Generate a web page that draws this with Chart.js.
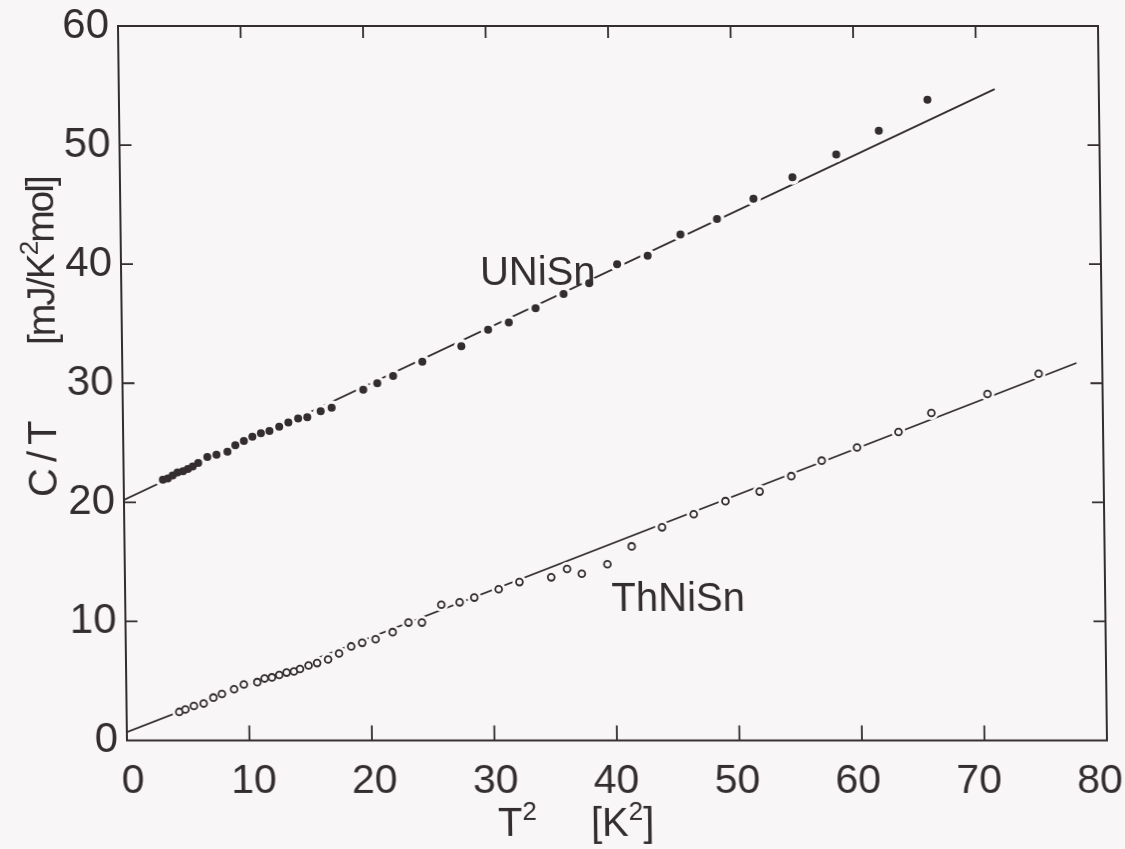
<!DOCTYPE html>
<html>
<head>
<meta charset="utf-8">
<script src="https://cdn.jsdelivr.net/npm/chart.js@4.4.1/dist/chart.umd.min.js"></script>
<style>
  html, body { margin: 0; padding: 0; background: #f8f6f7; }
  /* the plotted sheet sits very slightly sheared, like the printed page */
  #wrap { width: 1125px; height: 849px; transform: skewX(0.72deg); transform-origin: 50% 50%; }
</style>
</head>
<body>
<div id="wrap"><canvas id="cv" width="1125" height="849"></canvas></div>
<script>
  'use strict';

  // C/T vs T^2, UNiSn (filled) and ThNiSn (open)
  const uniT2 = [3.2, 3.6, 4.0, 4.4, 4.85, 5.25, 5.65, 6.1, 6.85, 7.6, 8.5, 9.15, 9.85, 10.55, 11.25, 11.95,
                 12.75, 13.5, 14.3, 15.05, 16.15, 17.05, 19.65, 20.8, 22.1, 24.5, 27.7, 29.9, 31.6, 33.8,
                 36.1, 38.2, 40.5, 43.0, 45.7, 48.7, 51.7, 54.9, 58.5, 62.0, 66.0];
  const uniCT = [21.9, 22.0, 22.25, 22.5, 22.6, 22.8, 23.0, 23.3, 23.8, 24.0, 24.25, 24.8, 25.15, 25.5, 25.8, 26.0,
                 26.35, 26.7, 27.05, 27.15, 27.65, 27.95, 29.45, 30.0, 30.6, 31.8, 33.1, 34.5, 35.1, 36.3,
                 37.5, 38.4, 40.0, 40.7, 42.5, 43.8, 45.5, 47.3, 49.2, 51.2, 53.8];

  const thT2 = [4.3, 4.8, 5.5, 6.3, 7.1, 7.8, 8.8, 9.6, 10.7, 11.3, 11.9, 12.5, 13.1, 13.7, 14.2, 14.9,
                15.6, 16.5, 17.4, 18.4, 19.3, 20.4, 21.8, 23.1, 24.2, 25.8, 27.3, 28.5, 30.5, 32.2,
                34.8, 36.1, 37.3, 39.4, 41.4, 43.9, 46.5, 49.1, 51.9, 54.5, 57.0, 59.9, 63.3, 66.0, 70.6, 74.8];
  const thCT = [2.4, 2.6, 2.9, 3.1, 3.6, 3.9, 4.3, 4.7, 4.9, 5.2, 5.3, 5.5, 5.7, 5.8, 6.0, 6.3,
                6.5, 6.8, 7.3, 7.9, 8.2, 8.5, 9.1, 9.9, 9.9, 11.4, 11.6, 12.0, 12.7, 13.3,
                13.7, 14.4, 14.0, 14.8, 16.3, 17.9, 19.0, 20.1, 20.9, 22.2, 23.5, 24.6, 25.9, 27.5, 29.1, 30.8];

  // straight-line fits, end points
  const uniFitT2 = [0, 71.5];
  const uniFitCT = [20.2, 54.7];
  const thFitT2 = [0, 77.9];
  const thFitCT = [0.7, 31.7];

  const xTicks = [0, 10, 20, 30, 40, 50, 60, 70, 80];
  const yTicks = [0, 10, 20, 30, 40, 50, 60];

  // curve names placed in data units
  const labelNames = ['UNiSn', 'ThNiSn'];
  const labelT2 = [29.3, 39.7];
  const labelCT = [38.25, 10.9];

  const INK = '#342d30';
  const PAPER = '#f8f6f7';
  const FONT = '"Liberation Sans", Arial, sans-serif';

  const pts = (xs, ys) => xs.map((x, i) => ({ x, y: ys[i] }));

  // box, inward tick marks, x tick numbers and the hand-set titles
  const plotFrame = {
    id: 'plotFrame',
    afterDatasetsDraw(chart) {
      const { ctx, chartArea: a, scales: { x, y } } = chart;
      ctx.save();
      ctx.strokeStyle = INK;
      ctx.lineWidth = 2;
      ctx.strokeRect(a.left, a.top, a.right - a.left, a.bottom - a.top);

      ctx.lineWidth = 1.8;
      ctx.beginPath();
      xTicks.slice(1, -1).forEach(v => {
        const px = x.getPixelForValue(v);
        ctx.moveTo(px, a.bottom); ctx.lineTo(px, a.bottom - 15);
        ctx.moveTo(px, a.top); ctx.lineTo(px, a.top + 12);
      });
      yTicks.slice(1, -1).forEach(v => {
        const py = y.getPixelForValue(v);
        ctx.moveTo(a.left, py); ctx.lineTo(a.left + 12, py);
        ctx.moveTo(a.right, py); ctx.lineTo(a.right - 12, py);
      });
      ctx.stroke();

      ctx.fillStyle = INK;
      ctx.textBaseline = 'alphabetic';

      // x numbers: the lettering creeps inward toward both ends
      ctx.textAlign = 'center';
      ctx.font = '41px ' + FONT;
      xTicks.forEach(v => {
        ctx.fillText(String(v), x.getPixelForValue(v) + 5.6 - 13 * v / 80, a.bottom + 52);
      });

      ctx.textAlign = 'left';
      ctx.font = '40px ' + FONT;
      labelNames.forEach((t, i) => {
        ctx.fillText(t, x.getPixelForValue(labelT2[i]), y.getPixelForValue(labelCT[i]));
      });

      // x title: T^2  [K^2]
      run(ctx, [['T', 40, 0], ['2', 26, 16]], a.left + 370, 836);
      run(ctx, [['[K', 40, 0], ['2', 26, 16], [']', 40, 0]], a.left + 463, 836);

      // y title, rotated: C/T  [mJ/K^2mol]
      ctx.save();
      ctx.translate(56, 497);
      ctx.rotate(-Math.PI / 2);
      ctx.letterSpacing = '6px';
      run(ctx, [['C/T', 40, 0]], 0, 0);
      ctx.letterSpacing = '-2px';
      run(ctx, [['[mJ/K', 39, 0], ['2', 26, 16], ['mol]', 39, 0]], 152, 0);
      ctx.restore();

      ctx.restore();
    }
  };

  function run(ctx, parts, x, y) {
    parts.forEach(([t, size, rise]) => {
      ctx.font = size + 'px ' + FONT;
      ctx.fillText(t, x, y - rise);
      x += ctx.measureText(t).width;
    });
    return x;
  }

  new Chart(document.getElementById('cv'), {
    type: 'scatter',
    data: {
      datasets: [
        { label: 'UNiSn', data: pts(uniT2, uniCT), order: 1,
          pointRadius: 4, pointBackgroundColor: INK, pointBorderWidth: 0 },
        { label: 'ThNiSn', data: pts(thT2, thCT), order: 1,
          pointRadius: 3.4, pointBackgroundColor: PAPER, pointBorderColor: INK, pointBorderWidth: 1.8 },
        // paper-coloured halos that break the fit lines around each point
        { label: 'uni-halo', data: pts(uniT2, uniCT), order: 2,
          pointRadius: 7.5, pointBackgroundColor: PAPER, pointBorderWidth: 0 },
        { label: 'th-halo', data: pts(thT2, thCT), order: 2,
          pointRadius: 7, pointBackgroundColor: PAPER, pointBorderWidth: 0 },
        { label: 'UNiSn fit', data: pts(uniFitT2, uniFitCT), order: 3, showLine: true,
          pointRadius: 0, borderColor: INK, borderWidth: 1.8 },
        { label: 'ThNiSn fit', data: pts(thFitT2, thFitCT), order: 3, showLine: true,
          pointRadius: 0, borderColor: INK, borderWidth: 1.8 },
      ],
    },
    options: {
      responsive: false, animation: false,
      layout: { padding: { top: 26, right: 22, left: 0, bottom: 0 } },
      plugins: { legend: { display: false }, tooltip: { enabled: false } },
      scales: {
        x: {
          type: 'linear', position: 'bottom', min: 0, max: 80,
          afterBuildTicks: s => { s.ticks = xTicks.map(v => ({ value: v })); },
          afterFit: s => { s.height = 108.5; s.paddingLeft = 0; s.paddingRight = 0; },
          grid: { display: false, drawTicks: false }, border: { display: false },
          ticks: { display: false },
        },
        y: {
          type: 'linear', position: 'left', min: 0, max: 60,
          afterBuildTicks: s => { s.ticks = yTicks.map(v => ({ value: v })); },
          afterFit: s => { s.width = 123; s.paddingTop = 0; s.paddingBottom = 0; },
          grid: { display: false, drawTicks: false }, border: { display: false },
          ticks: { color: INK, padding: 9, font: { family: FONT, size: 42 } },
        },
      },
    },
    plugins: [plotFrame],
  });
</script>
</body>
</html>
